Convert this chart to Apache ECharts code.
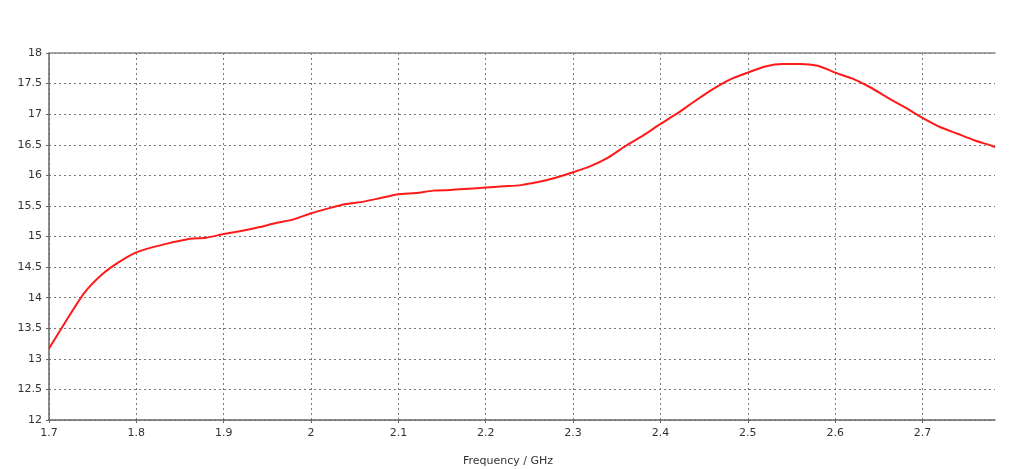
<!DOCTYPE html>
<html>
<head>
<meta charset="utf-8">
<script src="https://cdn.jsdelivr.net/npm/echarts@6/dist/echarts.min.js"></script>
<style>
  html, body { margin: 0; padding: 0; background: #fff; }
  #main { width: 1024px; height: 469px; }
</style>
</head>
<body>
<div id="main"></div>
<script>
// frequency in GHz
var freq = [1.70, 1.72, 1.74, 1.76, 1.78, 1.80, 1.82, 1.84, 1.86, 1.88,
            1.90, 1.92, 1.94, 1.96, 1.98, 2.00, 2.02, 2.04, 2.06, 2.08,
            2.10, 2.12, 2.14, 2.16, 2.18, 2.20, 2.22, 2.24, 2.26, 2.28,
            2.30, 2.32, 2.34, 2.36, 2.38, 2.40, 2.42, 2.44, 2.46, 2.48,
            2.50, 2.52, 2.54, 2.56, 2.58, 2.60, 2.62, 2.64, 2.66, 2.68,
            2.70, 2.72, 2.74, 2.76, 2.78, 2.783];
var gain = [13.17, 13.63, 14.07, 14.37, 14.58, 14.74, 14.83, 14.90, 14.96, 14.98,
            15.04, 15.09, 15.15, 15.22, 15.28, 15.38, 15.46, 15.53, 15.57, 15.63,
            15.69, 15.71, 15.75, 15.76, 15.78, 15.80, 15.82, 15.84, 15.89, 15.96,
            16.05, 16.15, 16.29, 16.48, 16.65, 16.84, 17.02, 17.22, 17.41, 17.57,
            17.68, 17.78, 17.82, 17.82, 17.79, 17.68, 17.58, 17.44, 17.27, 17.11,
            16.94, 16.79, 16.68, 16.57, 16.48, 16.46];
var xMin = 1.7, xMax = 2.783, xStep = 0.1;
var yMin = 12, yMax = 18, yStep = 0.5;

var pts = freq.map(function (f, i) { return [f, gain[i]]; });

var font = 'DejaVu Sans';
var chart = echarts.init(document.getElementById('main'));
chart.setOption({
    animation: false,
    grid: { left: 49, right: 29, top: 53, bottom: 49, outerBoundsMode: 'none' },
    xAxis: [{
        type: 'value',
        min: xMin, max: xMax, interval: xStep,
        name: 'Frequency / GHz',
        nameLocation: 'middle',
        nameGap: 36,
        nameTextStyle: { color: '#333', fontFamily: font, fontSize: 11, padding: [0, 28, 0, 0] },
        axisLine: { lineStyle: { color: '#666', width: 1.5 } },
        axisTick: { show: true, length: 3, lineStyle: { color: '#666' } },
        axisLabel: {
            color: '#333', fontFamily: font, fontSize: 11, margin: 8,
            showMaxLabel: false,
            formatter: function (v) { return String(Math.round(v * 10) / 10); }
        },
        splitLine: {
            show: true, showMaxLine: false,
            lineStyle: { color: '#777', type: [2, 3], width: 1 }
        }
    }, {
        type: 'value', position: 'top',
        min: xMin, max: xMax,
        axisLine: { show: true, lineStyle: { color: '#888', width: 1.5 } },
        axisTick: { show: false }, axisLabel: { show: false }, splitLine: { show: false }
    }],
    yAxis: {
        type: 'value',
        min: yMin, max: yMax, interval: yStep,
        axisLine: { show: true, lineStyle: { color: '#666', width: 1.5 } },
        axisTick: { show: true, length: 3, lineStyle: { color: '#666' } },
        axisLabel: { color: '#333', fontFamily: font, fontSize: 11, margin: 7 },
        splitLine: { show: true, lineStyle: { color: '#777', type: [2, 3], width: 1 } }
    },
    series: [{
        type: 'line',
        data: pts,
        showSymbol: false,
        smooth: 0.2,
        lineStyle: { color: '#ff1a1a', width: 2 },
        itemStyle: { color: '#ff1a1a' }
    }]
});
</script>
</body>
</html>
